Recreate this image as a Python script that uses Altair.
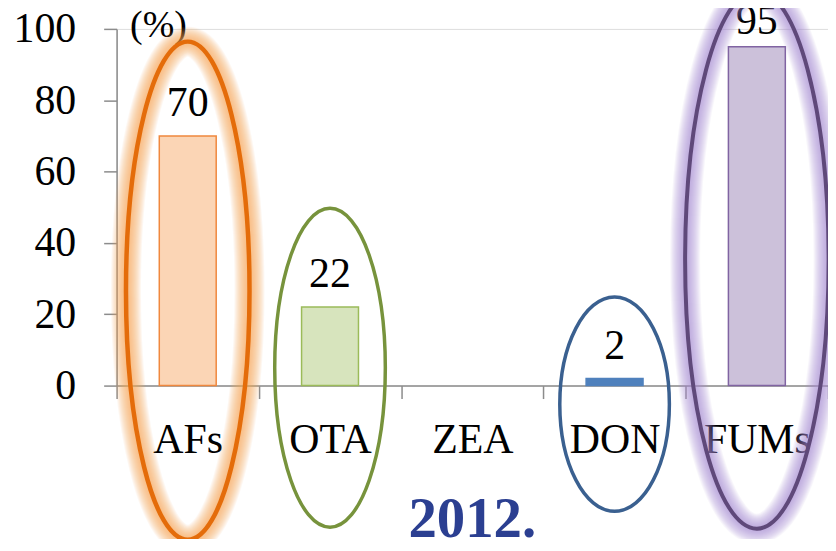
import altair as alt
import pandas as pd

# ---------------- data ----------------
categories = ["AFs", "OTA", "ZEA", "DON", "FUMs"]
values = [70, 22, 0, 2, 95]
bar_fills = ["#FBD5B5", "#D7E4BD", "#B9CDE5", "#4F81BD", "#CCC1DA"]
bar_strokes = ["#F0883E", "#9BBB59", "#4F81BD", "#4F81BD", "#8064A2"]
y_ticks = [0, 20, 40, 60, 80, 100]

# highlight ellipses: category and centre (in % units of the y axis)
ell_cats = ["AFs", "OTA", "DON", "FUMs"]
ell_centres = [26.6, 5.0, -5.2, 35.3]

bars_df = pd.DataFrame({"cat": categories, "val": values,
                        "fill": bar_fills, "stroke": bar_strokes})
ell_df = pd.DataFrame({"cat": ell_cats, "c": ell_centres})

SERIF = "Liberation Serif"

x_enc = alt.X("cat:N", sort=categories,
              scale=alt.Scale(domain=categories, paddingInner=0, paddingOuter=0),
              axis=alt.Axis(title=None, labelAngle=0, tickBand="extent",
                            domainColor="#8C8C8C", domainWidth=1.5,
                            tickColor="#8C8C8C", tickWidth=1.5, tickSize=13,
                            labelFont=SERIF, labelFontSize=42, labelColor="black",
                            labelPadding=21, labelBaseline="top"))

y_scale = alt.Scale(domain=[0, 100], nice=False, zero=True)
y_axis = alt.Axis(values=y_ticks, grid=False, title="(%)",
                  titleAngle=0, titleX=13, titleY=8, titleAlign="left",
                  titleBaseline="alphabetic", titleFont=SERIF, titleFontSize=38,
                  titleFontWeight="normal", titleColor="black",
                  domainColor="#8C8C8C", domainWidth=1.5,
                  tickColor="#8C8C8C", tickWidth=1.5, tickSize=13,
                  labelFont=SERIF, labelFontSize=42, labelColor="black",
                  labelPadding=28)

base = alt.Chart(bars_df)

bars = base.transform_filter("datum.val > 0").mark_bar(
    width=alt.RelativeBandSize(0.4), strokeWidth=1.5
).encode(
    x=x_enc,
    y=alt.Y("val:Q", scale=y_scale, axis=y_axis),
    fill=alt.Fill("fill:N", scale=None),
    stroke=alt.Stroke("stroke:N", scale=None),
)

labels_low = base.transform_filter("datum.val > 0 && datum.val < 90").mark_text(
    font=SERIF, fontSize=42, color="black", baseline="alphabetic", dy=-20
).encode(x=alt.X("cat:N", sort=categories), y=alt.Y("val:Q"), text="val:Q")

labels_high = base.transform_filter("datum.val >= 90").mark_text(
    font=SERIF, fontSize=42, color="black", baseline="alphabetic", dy=-13
).encode(x=alt.X("cat:N", sort=categories), y=alt.Y("val:Q"), text="val:Q")


def ellipse_path(r):
    k = 0.5523
    return (f"M0,-1 C{k*r:.4f},-1 {r:.4f},{-k:.4f} {r:.4f},0 "
            f"C{r:.4f},{k:.4f} {k*r:.4f},1 0,1 "
            f"C{-k*r:.4f},1 {-r:.4f},{k:.4f} {-r:.4f},0 "
            f"C{-r:.4f},{-k:.4f} {-k*r:.4f},-1 0,-1 Z")


# style of each ellipse: semi-axes in px, colour, width, glow colour
ell_style = {
    "AFs": dict(a=62, b=250, color="#E46C0A", sw=4.5, glow="#F9A552"),
    "OTA": dict(a=55.5, b=160, color="#77933C", sw=3.5, glow=None),
    "DON": dict(a=55, b=107.5, color="#3A6090", sw=3.5, glow=None),
    "FUMs": dict(a=72, b=270, color="#5F497A", sw=4, glow="#A88CD6"),
}

ell_layers = []
for cat in ell_cats:
    st = ell_style[cat]
    shape = ellipse_path(st["a"] / st["b"])
    size = (2 * st["b"]) ** 2
    src = alt.Chart(ell_df).transform_filter(alt.datum.cat == cat)
    enc = dict(x=alt.X("cat:N", sort=categories), y=alt.Y("c:Q"))
    if st["glow"]:
        for w in range(30, 5, -2):
            ell_layers.append(src.mark_point(
                shape=shape, size=size, filled=False, stroke=st["glow"],
                strokeWidth=w, opacity=0.075).encode(**enc))
    ell_layers.append(src.mark_point(
        shape=shape, size=size, filled=False, stroke=st["color"],
        strokeWidth=st["sw"], opacity=1).encode(**enc))

chart = alt.layer(bars, labels_low, labels_high, *ell_layers).properties(
    width=714, height=358,
    autosize=alt.AutoSizeParams(type="none"),
    padding={"left": 109, "top": 20, "right": 0, "bottom": 153},
    title=alt.TitleParams("2012.", orient="bottom", anchor="middle",
                          font=SERIF, fontSize=57, fontWeight="bold",
                          color="#2B3F91", baseline="alphabetic", offset=-63),
).configure_view(stroke=None).configure(background="white")

chart.save("out.html", embed_options={"renderer": "svg", "actions": False})
